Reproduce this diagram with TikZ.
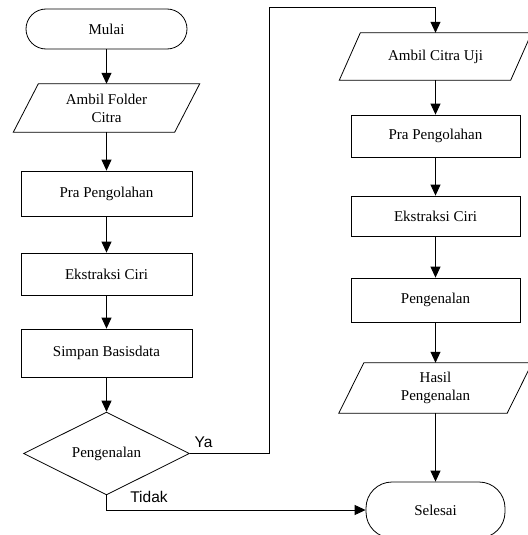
\documentclass[tikz,border=0pt]{standalone}
\usepackage{fontspec}
\setmainfont{Liberation Serif}
\newfontfamily\arialfont{Liberation Sans}
\usetikzlibrary{arrows.meta,shapes.geometric,calc}
\begin{document}
\begin{tikzpicture}[x=1pt,y=-1pt,
  every node/.style={font=\fontsize{15}{18}\selectfont, inner sep=0pt, align=center},
  ln/.style={line width=0.8pt, draw=black},
  arr/.style={ln, -{Triangle[length=11pt,width=10pt]}},
  procbox/.style={draw, line width=0.8pt, minimum width=171pt},
  termbox/.style={draw, line width=0.8pt, rounded corners=20pt},
  iobox/.style={minimum width=161pt},
  lbl/.style={font=\arialfont\fontsize{15.5}{18}\selectfont},
]
\useasboundingbox (0,0) rectangle (527,535);
% left column
\node[termbox, minimum width=161pt, minimum height=40pt] (mulai) at (106.5,29) {Mulai};
\node[minimum width=161pt, minimum height=48pt] (folder) at (106.5,108) {Ambil Folder\\Citra};
\draw[ln] ($(folder.north west)+(12.5,0)$) -- ($(folder.north east)+(12.5,0)$) -- ($(folder.south east)-(12.5,0)$) -- ($(folder.south west)-(12.5,0)$) -- cycle;
\node[procbox, minimum height=45pt] (pra1) at (106.5,193.5) {Pra Pengolahan};
\node[procbox, minimum height=42pt] (eks1) at (106.5,274) {Ekstraksi Ciri};
\node[procbox, minimum height=48pt] (simpan) at (106.5,353) {Simpan Basisdata};
\node[draw, line width=0.8pt, shape=diamond, minimum width=166pt, minimum height=73pt] (dia) at (106.5,453.5) {Pengenalan};
% right column
\node[minimum width=171pt, minimum height=47pt] (uji) at (435.5,56.5) {Ambil Citra Uji};
\draw[ln] ($(uji.north west)+(10.5,0)$) -- ($(uji.north east)+(10.5,0)$) -- ($(uji.south east)-(10.5,0)$) -- ($(uji.south west)-(10.5,0)$) -- cycle;
\node[procbox, minimum width=169pt, minimum height=42pt] (pra2) at (435.5,136) {Pra Pengolahan};
\node[procbox, minimum width=169pt, minimum height=40pt] (eks2) at (435.5,216) {Ekstraksi Ciri};
\node[procbox, minimum width=169pt, minimum height=44pt] (peng2) at (435.5,300) {Pengenalan};
\node[minimum width=168pt, minimum height=50pt] (hasil) at (435.5,388) {Hasil\\Pengenalan};
\draw[ln] ($(hasil.north west)+(12.5,0)$) -- ($(hasil.north east)+(12.5,0)$) -- ($(hasil.south east)-(12.5,0)$) -- ($(hasil.south west)-(12.5,0)$) -- cycle;
\node[termbox, rounded corners=26pt, minimum width=139pt, minimum height=56pt] (selesai) at (435.5,510) {Selesai};
% connectors
\draw[arr] (mulai) -- (folder);
\draw[arr] (folder) -- (pra1);
\draw[arr] (pra1) -- (eks1);
\draw[arr] (eks1) -- (simpan);
\draw[arr] (simpan) -- (dia);
\draw[arr] (uji) -- (pra2);
\draw[arr] (pra2) -- (eks2);
\draw[arr] (eks2) -- (peng2);
\draw[arr] (peng2) -- (hasil);
\draw[arr] (hasil) -- (selesai);
\coordinate (c1) at (269,7);
\draw[arr] (dia.east) -| (c1) -| (uji.north);
\draw[arr] (dia.south) |- (selesai.west);
\node[lbl] (ya) at (203.5,442) {Ya};
\node[lbl] (tidak) at (149,497) {Tidak};
\end{tikzpicture}
\end{document}
